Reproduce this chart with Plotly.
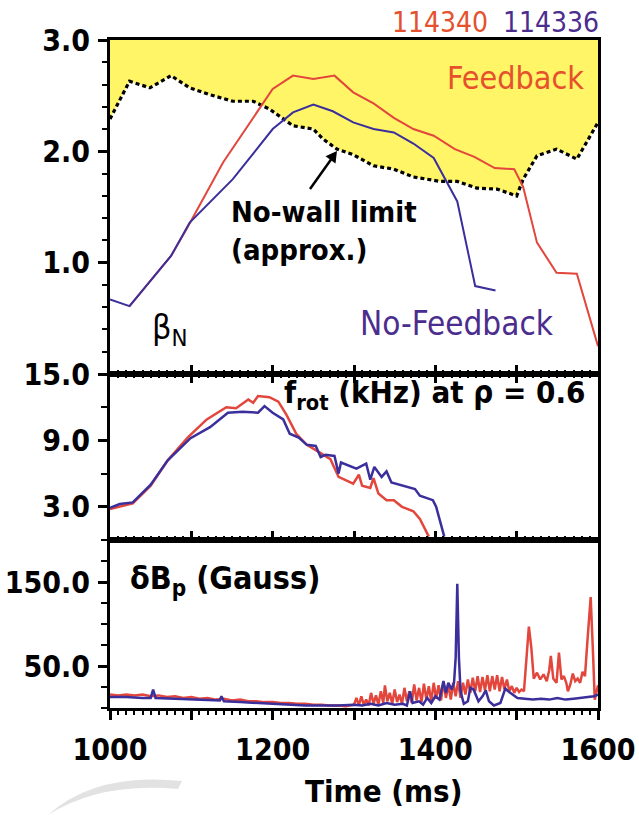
import plotly.graph_objects as go
from plotly.subplots import make_subplots

# ---------------- data ----------------
# no-wall beta_N limit (approximate)
t_limit = [1000, 1024, 1049, 1075, 1098, 1122, 1151, 1176, 1196, 1225, 1250, 1262, 1279,
           1299, 1324, 1349, 1373, 1406, 1427, 1451, 1476, 1500, 1508, 1525, 1549, 1574, 1600]
beta_limit = [2.29, 2.63, 2.57, 2.68, 2.57, 2.51, 2.45, 2.45, 2.38, 2.23, 2.20, 2.11, 2.02,
              1.97, 1.87, 1.84, 1.77, 1.73, 1.73, 1.67, 1.66, 1.60, 1.75, 1.96, 2.02, 1.93, 2.26]

# beta_N, shot 114340 (feedback)
t_beta_fb = [1024, 1075, 1094, 1139, 1200, 1225, 1250, 1276, 1299, 1324, 1349, 1373, 1398,
             1424, 1448, 1473, 1497, 1508, 1525, 1549, 1574, 1600]
beta_fb = [0.61, 1.06, 1.30, 1.90, 2.56, 2.68, 2.65, 2.68, 2.53, 2.43, 2.30, 2.20, 2.14,
           2.02, 1.95, 1.85, 1.84, 1.68, 1.18, 0.91, 0.90, 0.25]

# beta_N, shot 114336 (no feedback)
t_beta_nofb = [1000, 1024, 1075, 1098, 1151, 1200, 1225, 1250, 1274, 1299, 1324, 1349, 1373,
               1398, 1427, 1449, 1474]
beta_nofb = [0.67, 0.61, 1.06, 1.36, 1.75, 2.20, 2.35, 2.42, 2.36, 2.26, 2.20, 2.17, 2.07,
             1.94, 1.55, 0.79, 0.75]

# rotation frequency at rho = 0.6 (kHz)
t_frot_fb = [1000, 1028, 1050, 1071, 1096, 1119, 1143, 1155, 1170, 1176, 1182, 1196, 1207,
             1217, 1229, 1242, 1258, 1271, 1281, 1299, 1306, 1310, 1320, 1324, 1330, 1340,
             1349, 1359, 1373, 1381, 1392]
frot_fb = [2.8, 3.3, 4.9, 7.2, 9.3, 10.9, 12.0, 11.9, 12.7, 12.4, 13.0, 12.9, 12.5,
           11.3, 9.6, 8.6, 7.9, 7.3, 5.7, 5.1, 5.9, 4.9, 4.7, 5.6, 4.2, 3.6,
           3.6, 3.0, 2.6, 1.9, 0.3]

t_frot_nofb = [1000, 1012, 1028, 1050, 1071, 1099, 1123, 1145, 1163, 1182, 1190, 1200, 1213,
               1221, 1232, 1242, 1253, 1259, 1265, 1276, 1281, 1284, 1303, 1315, 1320, 1325,
               1334, 1340, 1346, 1360, 1375, 1381, 1397, 1401, 1411]
frot_nofb = [2.9, 3.25, 3.4, 5.0, 7.2, 9.2, 10.2, 11.5, 11.6, 11.5, 12.1, 11.5, 10.9,
             9.6, 9.25, 8.6, 8.5, 7.5, 7.7, 7.6, 6.0, 7.0, 6.45, 6.9, 5.45, 6.6,
             5.7, 6.2, 5.2, 4.9, 4.6, 4.0, 3.6, 3.0, 0.3]

# delta B_p (Gauss)
t_db_fb = [1000, 1010, 1020, 1030, 1040, 1050, 1060, 1070, 1080, 1090, 1100, 1110, 1120, 1130,
           1140, 1150, 1160, 1170, 1180, 1190, 1200, 1210, 1220, 1230, 1240, 1250, 1260, 1270,
           1280, 1290, 1300,
           1303, 1306, 1309, 1312, 1315, 1318, 1321, 1324, 1327, 1330, 1333, 1336, 1338, 1341,
           1344, 1347, 1350, 1353, 1356, 1359, 1362, 1365, 1368, 1371, 1374, 1377, 1380, 1383,
           1386, 1389, 1392, 1395, 1398, 1401, 1404, 1407, 1410, 1413, 1416, 1419, 1422, 1425,
           1428, 1431, 1434, 1437, 1440, 1443, 1446, 1449, 1452, 1455, 1458, 1461, 1464, 1467,
           1470, 1473, 1476, 1479, 1482, 1485, 1488, 1491, 1494, 1497, 1500, 1503, 1506, 1509,
           1512, 1515, 1518, 1521, 1525, 1529, 1533, 1537, 1540, 1542, 1545, 1549, 1552, 1555,
           1558, 1561, 1563, 1566, 1569, 1572, 1575, 1578, 1581, 1584, 1587, 1591, 1594, 1596,
           1600]
db_fb = [16, 15, 16, 15, 16, 14, 15, 13, 14, 12, 13, 11, 12, 10,
         11, 9, 10, 8, 8, 7, 7, 6, 6, 5, 5, 4, 4, 3,
         3, 2, 4,
         12, 3, 14, 4, 10, 3, 18, 5, 15, 4, 20, 6, 27, 8,
         18, 5, 22, 7, 16, 5, 24, 8, 20, 6, 28, 9, 24, 7,
         29, 10, 26, 8, 30, 11, 27, 9, 31, 12, 28, 10, 30, 14,
         32, 12, 30, 16, 34, 18, 36, 20, 38, 19, 37, 21, 39, 20,
         38, 22, 39, 20, 37, 22, 34, 20, 26, 18, 24, 19, 22, 20,
         60, 97, 72, 35, 42, 34, 40, 32, 45, 62, 35, 30, 66, 34,
         38, 30, 20, 28, 41, 32, 35, 30, 43, 38, 80, 132, 62, 10,
         27]

t_db_nofb = [1000, 1020, 1040, 1050, 1053, 1056, 1080, 1100, 1120, 1135, 1137, 1140, 1160,
             1180, 1200, 1220, 1240, 1260, 1280, 1300, 1310, 1320, 1330, 1340, 1350, 1360,
             1365, 1369, 1372, 1380, 1385, 1390, 1395, 1400, 1405, 1410, 1413, 1416, 1420,
             1423, 1425, 1427, 1429, 1431, 1435, 1440, 1443, 1447, 1453, 1458, 1462, 1466,
             1472, 1480, 1486, 1492, 1501, 1510, 1520, 1530, 1540, 1550, 1560, 1570, 1580,
             1590, 1595, 1600]
db_nofb = [13, 13, 12, 12, 22, 12, 11, 10, 9, 9, 14, 8, 7,
           6, 5, 4, 3, 3, 3, 4, 3, 5, 3, 6, 4, 5,
           3, 20, 6, 8, 4, 12, 6, 14, 10, 32, 18, 30, 22,
           30, 60, 148, 60, 20, 5, 8, 24, 22, 8, 14, 21, 8,
           3, 6, 23, 18, 12, 11, 10, 11, 10, 12, 10, 11, 12,
           13, 14, 16]

# tick positions / labels
x_major = [1000, 1100, 1200, 1300, 1400, 1500, 1600]
x_labels = [1000, 1200, 1400, 1600]
beta_ticks = [1.0, 2.0, 3.0]
frot_ticks = [3.0, 9.0, 15.0]
db_ticks = [50.0, 150.0]

# ---------------- styling ----------------
RED = "#e2463c"
BLUE = "#3b2f9c"
RED_TXT = "#e5512c"
PURPLE_TXT = "#4b2d8e"
YELLOW = "#fff566"
NARROW = "DejaVu Sans Condensed, Liberation Sans Narrow, sans-serif"

W, H = 639, 815
ML, MR, MT, MB = 110, 41, 40, 107


def px_x(x):
    return (x - ML) / (W - ML - MR)


def px_y(y):
    return (H - MB - y) / (H - MT - MB)


fig = make_subplots(rows=3, cols=1, shared_xaxes=True, vertical_spacing=0)

# yellow region above the no-wall limit
fig.add_trace(go.Scatter(x=t_limit, y=[3.0] * len(t_limit), mode="lines",
                         line=dict(width=0), hoverinfo="skip", showlegend=False),
              row=1, col=1)
fig.add_trace(go.Scatter(x=t_limit, y=beta_limit, mode="lines", fill="tonexty",
                         fillcolor=YELLOW,
                         line=dict(color="black", width=3.2, dash="4px,3px"),
                         showlegend=False), row=1, col=1)
fig.add_trace(go.Scatter(x=t_beta_fb, y=beta_fb, mode="lines",
                         line=dict(color=RED, width=2), showlegend=False), row=1, col=1)
fig.add_trace(go.Scatter(x=t_beta_nofb, y=beta_nofb, mode="lines",
                         line=dict(color=BLUE, width=2), showlegend=False), row=1, col=1)

fig.add_trace(go.Scatter(x=t_frot_fb, y=frot_fb, mode="lines",
                         line=dict(color=RED, width=2.5), showlegend=False), row=2, col=1)
fig.add_trace(go.Scatter(x=t_frot_nofb, y=frot_nofb, mode="lines",
                         line=dict(color=BLUE, width=2.5), showlegend=False), row=2, col=1)

fig.add_trace(go.Scatter(x=t_db_fb, y=db_fb, mode="lines",
                         line=dict(color=RED, width=2.5), showlegend=False), row=3, col=1)
fig.add_trace(go.Scatter(x=t_db_nofb, y=db_nofb, mode="lines",
                         line=dict(color=BLUE, width=2.5), showlegend=False), row=3, col=1)

# helper trace so the labelled time axis (x4) is drawn over the bottom panel
fig.add_trace(go.Scatter(x=[1000, 1600], y=[None, None], xaxis="x4", yaxis="y3",
                         mode="lines", hoverinfo="skip", showlegend=False))

tickfont = dict(family=NARROW, size=30, color="black", weight="bold")

common_x = dict(range=[1000, 1600], showgrid=False, zeroline=False, showline=True,
                linecolor="black", linewidth=3, tickvals=x_major,
                tickcolor="black", tickwidth=2.5, ticklen=9, showticklabels=False,
                automargin=False)
minor_in = dict(dtick=10, tick0=1000, ticklen=4, tickwidth=2, tickcolor="black",
                ticks="inside", showgrid=False)
minor_out = dict(minor_in, ticks="outside")

fig.update_xaxes(domain=[0, 1])
fig.update_layout(
    xaxis=dict(common_x, ticks="inside", mirror=True, minor=minor_in),
    xaxis2=dict(common_x, ticks="inside", mirror="ticks", minor=minor_in),
    xaxis3=dict(common_x, ticks="outside", mirror=True, minor=minor_out),
    xaxis4=dict(overlaying="x3", anchor="y3", side="bottom", domain=[0, 1],
                range=[1000, 1600], tickvals=x_labels, ticks="outside", ticklen=9,
                tickwidth=2.5, tickcolor="black", showline=False, showgrid=False,
                zeroline=False, tickfont=tickfont, ticklabelstandoff=6, automargin=False),
)

common_y = dict(showgrid=False, zeroline=False, showline=True, linecolor="black", linewidth=3,
                mirror=True, ticks="outside", tickcolor="black", tickwidth=2.5, ticklen=9,
                tickfont=tickfont, tickformat=".1f", ticklabelstandoff=2, automargin=False)
fig.update_layout(
    yaxis=dict(common_y, domain=[px_y(374), 1], range=[0, 3], tickvals=beta_ticks,
               minor=dict(dtick=0.2, tick0=0, ticks="outside", ticklen=5, tickwidth=2,
                          tickcolor="black")),
    yaxis2=dict(common_y, domain=[px_y(540), px_y(374)], range=[0, 15], tickvals=frot_ticks,
                minor=dict(dtick=3, tick0=0, ticks="outside", ticklen=6, tickwidth=2,
                           tickcolor="black")),
    yaxis3=dict(common_y, domain=[0, px_y(540)], range=[0, 200], tickvals=db_ticks,
                minor=dict(dtick=25, tick0=0, ticks="outside", ticklen=6, tickwidth=2,
                           tickcolor="black")),
)

reg = dict(family=NARROW, size=32)
bold = dict(family=NARROW, size=29, weight="bold", color="black")


def label(text, x, y, font, xanchor="center", yanchor="middle"):
    fig.add_annotation(text=text, x=px_x(x), y=px_y(y), xref="paper", yref="paper",
                       showarrow=False, font=font, xanchor=xanchor, yanchor=yanchor)


label("114340", 440, 22, dict(reg, size=28, color=RED_TXT))
label("114336", 551, 22, dict(reg, size=28, color=PURPLE_TXT))
label("Feedback", 586, 78, dict(reg, color=RED_TXT), xanchor="right")
label("No-Feedback", 556, 323, dict(reg, size=33, color=PURPLE_TXT), xanchor="right")
label("β<sub>N</sub>", 150, 329, dict(reg, size=34, color="black"), xanchor="left")
label("No-wall limit", 229, 212, bold, xanchor="left")
label("(approx.)", 229, 250, bold, xanchor="left")
label("f<sub>rot</sub> (kHz) at ρ = 0.6", 588, 394, dict(bold, size=31), xanchor="right")
label("δB<sub>p</sub> (Gauss)", 128, 580, dict(bold, size=32), xanchor="left")
label("Time (ms)", 383, 791, dict(bold, size=31))

# arrow pointing at the no-wall limit curve: shaft + head
tail, tip = (310, 189), (337, 151)
fig.add_shape(type="line", xref="paper", yref="paper",
              x0=px_x(tail[0]), y0=px_y(tail[1]), x1=px_x(331), y1=px_y(159.5),
              line=dict(color="black", width=2.5))
fig.add_shape(type="path", xref="paper", yref="paper", line=dict(width=0), fillcolor="black",
              path="M {:.5f},{:.5f} L {:.5f},{:.5f} L {:.5f},{:.5f} Z".format(
                  px_x(tip[0]), px_y(tip[1]), px_x(335.5), px_y(163.5),
                  px_x(325.5), px_y(156.3)))

# faint grey swoosh in the lower-left corner
fig.add_shape(type="path", xref="paper", yref="paper", line=dict(width=0),
              fillcolor="#e2e2e2", layer="below",
              path=("M {a},{b} Q {c},{d} {e},{f} L {g},{h} Q {i},{j} {a},{b} Z").format(
                  a=px_x(48), b=px_y(815), c=px_x(95), d=px_y(772), e=px_x(182), f=px_y(781),
                  g=px_x(178), h=px_y(789), i=px_x(100), j=px_y(782)))

fig.update_layout(width=W, height=H, margin=dict(l=ML, r=MR, t=MT, b=MB),
                  paper_bgcolor="white", plot_bgcolor="white", showlegend=False)

fig.write_html("out.html")
